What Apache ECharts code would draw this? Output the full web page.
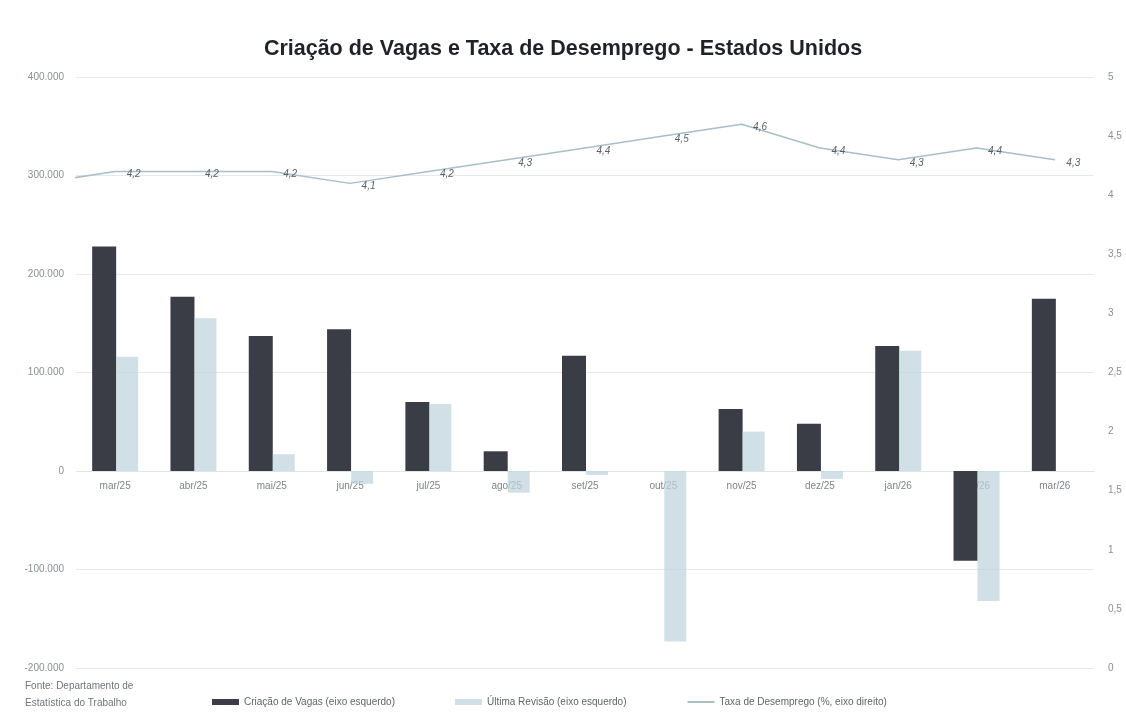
<!DOCTYPE html>
<html>
<head>
<meta charset="utf-8">
<script src="https://cdn.jsdelivr.net/npm/echarts@6/dist/echarts.min.js"></script>
<style>
  html, body { margin: 0; padding: 0; background: #fff; }
  #chart { width: 1126px; height: 722px; }
</style>
</head>
<body>
<div id="chart"></div>
<script>
// meses (eixo das categorias)
const months = ["mar/25", "abr/25", "mai/25", "jun/25", "jul/25", "ago/25", "set/25",
  "out/25", "nov/25", "dez/25", "jan/26", "fev/26", "mar/26"];
// criação de vagas (primeira divulgação)
const vagas = [228000, 177000, 137000, 144000, 70000, 20000, 117000,
  null, 63000, 48000, 127000, -91000, 175000];
// última revisão
const revisao = [116000, 155000, 17000, -13000, 68000, -22000, -4000,
  -173000, 40000, -8000, 122000, -132000, null];
// taxa de desemprego (%)
const taxa = [4.2, 4.2, 4.2, 4.1, 4.2, 4.3, 4.4, 4.5, 4.6, 4.4, 4.3, 4.4, 4.3];
// mês anterior (fev/25), só aparece como o trecho cortado na borda do gráfico
const taxaAnterior = 4.1;

const leftTicks = { min: -200000, max: 400000, interval: 100000 };
const rightTicks = { min: 0, max: 5, interval: 0.5 };

function milhar(v) {
  const s = String(Math.abs(v)).replace(/\B(?=(\d{3})+(?!\d))/g, ".");
  return (v < 0 ? "-" : "") + s;
}
function virgula(v) {
  return String(v).replace(".", ",");
}

const chart = echarts.init(document.getElementById("chart"));

const lineData = [{ value: [-1, taxaAnterior], label: { show: false } }]
  .concat(taxa.map((v, i) => [i, v]));

const font = "'Liberation Sans', sans-serif";
const area = { left: 76, right: 32, top: 77, bottom: 54 };
// eixo das categorias fica na linha do zero (onZero não funcionou aqui)
const plotHeight = 722 - area.top - area.bottom;
const zeroOffset = -plotHeight * (0 - leftTicks.min) / (leftTicks.max - leftTicks.min);

const option = {
  backgroundColor: "#fff",
  textStyle: { fontFamily: font },
  title: [
    {
      text: "Criação de Vagas e Taxa de Desemprego - Estados Unidos",
      left: "center",
      top: 33,
      textStyle: {
        fontFamily: font,
        fontSize: 21.5,
        fontWeight: "bold",
        color: "#1f2228",
      },
    },
    {
      text: "Fonte: Departamento de\nEstatística do Trabalho",
      left: 20,
      top: 673,
      textStyle: {
        fontFamily: font,
        fontSize: 10,
        fontWeight: "normal",
        color: "#6f757b",
        lineHeight: 17,
      },
    },
  ],
  legend: {
    left: 207,
    top: 692,
    itemGap: 60,
    itemWidth: 27,
    itemHeight: 6,
    textStyle: { fontSize: 10, color: "#5f6569", fontFamily: font },
    data: [
      { name: "Criação de Vagas (eixo esquerdo)", icon: "rect" },
      { name: "Última Revisão (eixo esquerdo)", icon: "rect" },
      { name: "Taxa de Desemprego (%, eixo direito)", itemStyle: { opacity: 0 } },
    ],
  },
  grid: [Object.assign({}, area), Object.assign({}, area)],
  xAxis: [
    {
      type: "category",
      gridIndex: 0,
      data: months,
      position: "bottom",
      offset: zeroOffset,
      axisLine: { show: true, onZero: false, lineStyle: { color: "#dde5e8" } },
      axisTick: { show: false },
      axisLabel: { color: "#7e8489", fontSize: 10, margin: 10 },
    },
    {
      type: "value",
      gridIndex: 1,
      min: -0.5,
      max: months.length - 0.5,
      show: false,
      splitLine: { show: false },
    },
  ],
  yAxis: [
    {
      type: "value",
      gridIndex: 0,
      min: leftTicks.min,
      max: leftTicks.max,
      interval: leftTicks.interval,
      axisLine: { show: false },
      axisTick: { show: false },
      splitLine: { lineStyle: { color: "#e4eaec" } },
      axisLabel: { color: "#8a8f94", fontSize: 10, formatter: milhar, margin: 12 },
    },
    {
      type: "value",
      gridIndex: 1,
      position: "right",
      min: rightTicks.min,
      max: rightTicks.max,
      interval: rightTicks.interval,
      axisLine: { show: false },
      axisTick: { show: false },
      splitLine: { show: false },
      axisLabel: { color: "#8a8f94", fontSize: 10, formatter: virgula, margin: 14 },
    },
  ],
  series: [
    {
      name: "Criação de Vagas (eixo esquerdo)",
      type: "bar",
      data: vagas,
      barWidth: 24,
      barGap: "0%",
      itemStyle: { color: "#3a3d45" },
    },
    {
      name: "Última Revisão (eixo esquerdo)",
      type: "bar",
      data: revisao,
      barWidth: 22,
      // um pouco transparente: os rótulos do eixo aparecem por baixo
      itemStyle: { color: "rgba(190, 212, 220, 0.72)" },
    },
    {
      name: "Taxa de Desemprego (%, eixo direito)",
      type: "line",
      xAxisIndex: 1,
      yAxisIndex: 1,
      data: lineData,
      clip: true,
      symbol: "circle",
      symbolSize: 1,
      showSymbol: true,
      lineStyle: { color: "#a9bec7", width: 1.5 },
      itemStyle: { color: "#a9bec7" },
      label: {
        show: true,
        position: "right",
        distance: 11,
        offset: [0, 3],
        color: "#59606b",
        fontSize: 10,
        fontStyle: "italic",
        formatter: (p) => virgula(p.value[1]),
      },
    },
  ],
};

chart.setOption(option, true);
</script>
</body>
</html>
